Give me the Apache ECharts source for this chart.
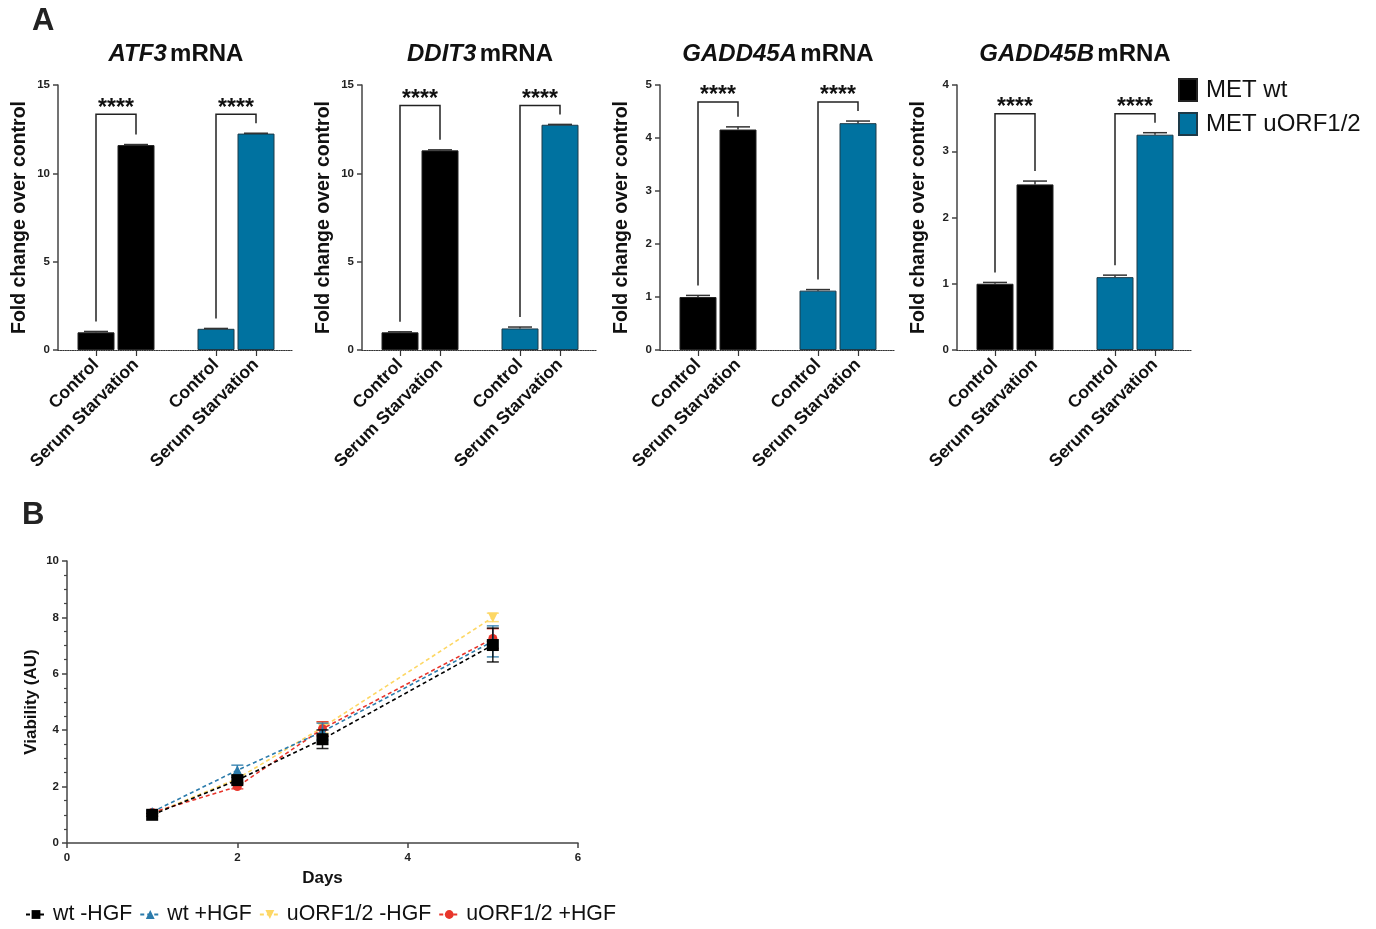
<!DOCTYPE html>
<html><head><meta charset="utf-8">
<script src="https://cdn.jsdelivr.net/npm/echarts@6/dist/echarts.min.js"></script>
<style>html,body{margin:0;padding:0;background:#fff}#c{width:1376px;height:929px}</style>
</head><body><div id="c"></div>
<script>
// ---------- Panel A data ----------
const genes = ['ATF3', 'DDIT3', 'GADD45A', 'GADD45B'];
const barLabels = ['Control', 'Serum Starvation', 'Control', 'Serum Starvation'];
const barPositions = [0, 1, 3, 4];
const yMaxA = [15, 15, 5, 4];
const yIntervalA = [5, 5, 1, 1];
const wtMeans = [[1.0, 11.6], [1.0, 11.3], [1.0, 4.16], [1.0, 2.50]];
const wtErrs = [[0.05, 0.03], [0.03, 0.03], [0.03, 0.05], [0.02, 0.05]];
const uorfMeans = [[1.2, 12.25], [1.22, 12.75], [1.12, 4.28], [1.10, 3.25]];
const uorfErrs = [[0.02, 0.02], [0.08, 0.02], [0.02, 0.04], [0.03, 0.03]];
const sigLabels = [['****', '****'], ['****', '****'], ['****', '****'], ['****', '****']];
const barSeriesNames = ['MET wt', 'MET uORF1/2'];

// ---------- Panel B data ----------
const days = [1, 2, 3, 5];
const lineNames = ['wt -HGF', 'wt +HGF', 'uORF1/2 -HGF', 'uORF1/2 +HGF'];
const wtMinusHGF = [1.0, 2.23, 3.68, 7.02];
const wtMinusHGFErr = [0.05, 0.1, 0.33, 0.6];
const wtPlusHGF = [1.1, 2.58, 3.95, 7.15];
const wtPlusHGFErr = [0.05, 0.18, 0.3, 0.55];
const uorfMinusHGF = [1.02, 2.28, 4.1, 8.0];
const uorfMinusHGFErr = [0.05, 0.12, 0.2, 0.15];
const uorfPlusHGF = [1.08, 2.0, 4.05, 7.25];
const uorfPlusHGFErr = [0.05, 0.08, 0.25, 0.35];

// ---------- styling ----------
const FONT = '"Liberation Sans", Arial, sans-serif';
const BLACK = '#000000';
const TEAL = '#0072a0';
const lineColors = ['#000000', '#2b7bab', '#fdd764', '#e8352b'];
const lineSymbols = ['rect', 'triangle', 'triangle', 'circle'];
const lineSymbolRot = [0, 0, 180, 0];
const lineSymbolSize = [12, 10, 10, 9];
const gridLefts = [58, 362, 660, 957];
const titleCenters = [176, 480, 778, 1075];

const chart = echarts.init(document.getElementById('c'));

const grids = [], xAxes = [], yAxes = [], series = [], graphics = [];

graphics.push({type: 'text', x: 32, y: 6, style: {text: 'A', font: 'bold 31px ' + FONT, fill: '#222'}});
graphics.push({type: 'text', x: 22, y: 500, style: {text: 'B', font: 'bold 31px ' + FONT, fill: '#222'}});

genes.forEach((g, i) => {
  grids.push({left: gridLefts[i], top: 85, width: 235, height: 265});
  graphics.push({
    type: 'text', x: titleCenters[i], y: 54,
    style: {
      text: '{i|' + g + '} {n|mRNA}', align: 'center', verticalAlign: 'middle',
      rich: {
        i: {fontStyle: 'italic', fontWeight: 'bold', fontSize: 24, fontFamily: FONT, fill: '#111'},
        n: {fontWeight: 'bold', fontSize: 24, fontFamily: FONT, fill: '#111'}
      }
    }
  });
  xAxes.push({
    type: 'value', gridIndex: i, min: -0.95, max: 4.925,
    axisLine: {show: true, onZero: false, lineStyle: {color: '#333', width: 1.2, type: 'dotted'}},
    axisTick: {show: true, customValues: barPositions, length: 6, lineStyle: {color: '#333', width: 1.2}},
    axisLabel: {
      show: true, customValues: barPositions, rotate: 45, margin: 12,
      formatter: v => barLabels[barPositions.indexOf(Math.round(v))] || '',
      fontFamily: FONT, fontWeight: 'bold', fontSize: 17.5, color: '#111'
    },
    splitLine: {show: false}
  });
  yAxes.push({
    type: 'value', gridIndex: i, min: 0, max: yMaxA[i], interval: yIntervalA[i],
    name: 'Fold change over control', nameLocation: 'middle', nameGap: 28,
    nameTextStyle: {fontFamily: FONT, fontWeight: 'bold', fontSize: 19.5, color: '#111'},
    axisLine: {show: true, onZero: false, lineStyle: {color: '#444', width: 1.5}},
    axisTick: {show: true, length: 5, lineStyle: {color: '#444', width: 1.5}},
    axisLabel: {fontFamily: FONT, fontWeight: 'bold', fontSize: 11.5, color: '#222', margin: 8},
    splitLine: {show: false}
  });
  series.push({
    type: 'bar', name: barSeriesNames[0], xAxisIndex: i, yAxisIndex: i, barWidth: 37, barGap: '-100%',
    data: [0, 1].map(j => [barPositions[j], wtMeans[i][j]]),
    itemStyle: {color: BLACK, borderColor: '#222', borderWidth: 1}
  });
  series.push({
    type: 'bar', name: barSeriesNames[1], xAxisIndex: i, yAxisIndex: i, barWidth: 37, barGap: '-100%',
    data: [0, 1].map(j => [barPositions[j + 2], uorfMeans[i][j]]),
    itemStyle: {color: TEAL, borderColor: '#1d3a48', borderWidth: 1}
  });
  // error bars
  const errData = [];
  [0, 1].forEach(j => errData.push([barPositions[j], wtMeans[i][j], wtErrs[i][j]]));
  [0, 1].forEach(j => errData.push([barPositions[j + 2], uorfMeans[i][j], uorfErrs[i][j]]));
  series.push({
    type: 'custom', xAxisIndex: i, yAxisIndex: i, z: 5, silent: true,
    encode: {x: 0, y: 1},
    data: errData,
    renderItem: (params, api) => {
      const x = api.value(0), m = api.value(1), e = api.value(2);
      const p1 = api.coord([x, m]), p2 = api.coord([x, m + e]);
      const st = {stroke: '#333', lineWidth: 1.5};
      return {type: 'group', children: [
        {type: 'line', shape: {x1: p1[0], y1: p1[1], x2: p2[0], y2: p2[1]}, style: st},
        {type: 'line', shape: {x1: p2[0] - 12, y1: p2[1], x2: p2[0] + 12, y2: p2[1]}, style: st}
      ]};
    }
  });
  // significance brackets
  const tops = [
    wtMeans[i][0] + wtErrs[i][0], wtMeans[i][1] + wtErrs[i][1],
    uorfMeans[i][0] + uorfErrs[i][0], uorfMeans[i][1] + uorfErrs[i][1]
  ];
  const level = Math.max(...tops);
  const brData = [
    [barPositions[0], barPositions[1], tops[0], tops[1], level, 0],
    [barPositions[2], barPositions[3], tops[2], tops[3], level, 1]
  ];
  series.push({
    type: 'custom', xAxisIndex: i, yAxisIndex: i, z: 6, silent: true,
    encode: {x: [0, 1], y: [2, 3]},
    data: brData,
    renderItem: (params, api) => {
      const xl = api.value(0), xr = api.value(1);
      const pl = api.coord([xl, api.value(2)]), pr = api.coord([xr, api.value(3)]);
      const py = api.coord([xl, api.value(4)])[1] - 19;
      const st = {stroke: '#222', lineWidth: 1.5, fill: null};
      return {type: 'group', children: [
        {type: 'polyline', shape: {points: [[pl[0], pl[1] - 10], [pl[0], py], [pr[0], py], [pr[0], pr[1] - 10]]}, style: st},
        {type: 'text', style: {
          text: sigLabels[i][api.value(5)], x: (pl[0] + pr[0]) / 2, y: py - 6,
          align: 'center', verticalAlign: 'middle',
          font: 'bold 23px ' + FONT, fill: '#111'
        }}
      ]};
    }
  });
});

// ---------- Panel B ----------
grids.push({left: 67, top: 561, width: 511, height: 282});
xAxes.push({
  type: 'value', gridIndex: 4, min: 0, max: 6, interval: 2,
  name: 'Days', nameLocation: 'middle', nameGap: 27,
  nameTextStyle: {fontFamily: FONT, fontWeight: 'bold', fontSize: 17, color: '#111'},
  axisLine: {show: true, onZero: false, lineStyle: {color: '#444', width: 1.5}},
  axisTick: {show: true, length: 5, lineStyle: {color: '#444', width: 1.5}},
  axisLabel: {fontFamily: FONT, fontWeight: 'bold', fontSize: 11.5, color: '#222', margin: 9},
  splitLine: {show: false}
});
yAxes.push({
  type: 'value', gridIndex: 4, min: 0, max: 10, interval: 2,
  name: 'Viability (AU)', nameLocation: 'middle', nameGap: 27,
  nameTextStyle: {fontFamily: FONT, fontWeight: 'bold', fontSize: 17, color: '#111'},
  axisLine: {show: true, onZero: false, lineStyle: {color: '#444', width: 1.5}},
  axisTick: {show: true, length: 5, lineStyle: {color: '#444', width: 1.5}},
  minorTick: {show: true, splitNumber: 4, length: 3, lineStyle: {color: '#444', width: 1.2}},
  axisLabel: {fontFamily: FONT, fontWeight: 'bold', fontSize: 11.5, color: '#222', margin: 8},
  splitLine: {show: false}
});
const lineVals = [wtMinusHGF, wtPlusHGF, uorfMinusHGF, uorfPlusHGF];
const lineErrs = [wtMinusHGFErr, wtPlusHGFErr, uorfMinusHGFErr, uorfPlusHGFErr];
const lineZ = [8, 6, 3, 4];
lineVals.forEach((vals, k) => {
  series.push({
    type: 'custom', xAxisIndex: 4, yAxisIndex: 4, z: lineZ[k], silent: true,
    encode: {x: 0, y: 1},
    data: days.map((d, n) => [d, vals[n], lineErrs[k][n]]),
    renderItem: (params, api) => {
      const x = api.value(0), m = api.value(1), e = api.value(2);
      const p1 = api.coord([x, m - e]), p2 = api.coord([x, m + e]);
      const st = {stroke: lineColors[k], lineWidth: 1.5, opacity: 0.85};
      return {type: 'group', children: [
        {type: 'line', shape: {x1: p1[0], y1: p1[1], x2: p2[0], y2: p2[1]}, style: st},
        {type: 'line', shape: {x1: p1[0] - 6, y1: p1[1], x2: p1[0] + 6, y2: p1[1]}, style: st},
        {type: 'line', shape: {x1: p2[0] - 6, y1: p2[1], x2: p2[0] + 6, y2: p2[1]}, style: st}
      ]};
    }
  });
  series.push({
    type: 'line', name: lineNames[k], xAxisIndex: 4, yAxisIndex: 4, z: lineZ[k],
    data: days.map((d, n) => [d, vals[n]]),
    symbol: lineSymbols[k], symbolSize: lineSymbolSize[k], symbolRotate: lineSymbolRot[k],
    showAllSymbol: true,
    lineStyle: {color: lineColors[k], width: 1.6, type: [4, 3]},
    itemStyle: {color: lineColors[k]},
    emphasis: {disabled: true}
  });
});

chart.setOption({
  animation: false,
  backgroundColor: '#ffffff',
  textStyle: {fontFamily: FONT},
  grid: grids,
  xAxis: xAxes,
  yAxis: yAxes,
  graphic: graphics,
  legend: [
    {
      data: barSeriesNames, orient: 'vertical', left: 1178, top: 78, icon: 'rect', padding: 0,
      itemWidth: 18, itemHeight: 22, itemGap: 10,
      textStyle: {fontFamily: FONT, fontSize: 24, color: '#111', padding: [0, 0, 0, 4]}
    },
    {
      data: lineNames, orient: 'horizontal', left: 25, top: 904, padding: 0,
      itemWidth: 20, itemHeight: 11, itemGap: 7,
      textStyle: {fontFamily: FONT, fontSize: 21.3, color: '#111', padding: [0, 0, 0, 2]}
    }
  ],
  series: series
});
</script>
</body></html>
